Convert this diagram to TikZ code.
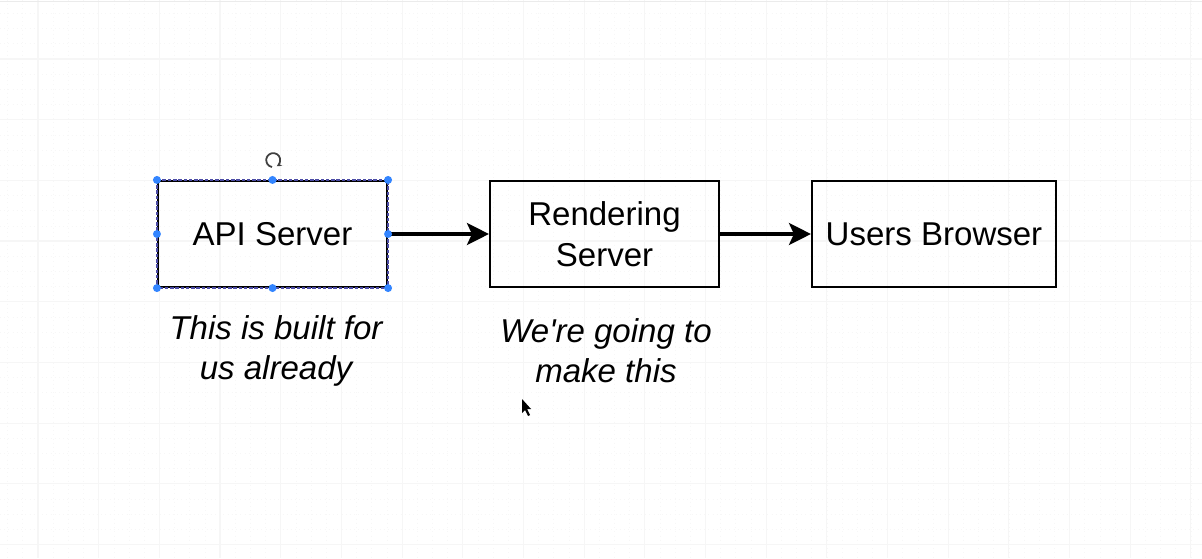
\documentclass[tikz,border=0pt]{standalone}
\usepackage{fontspec}
\setmainfont{Liberation Sans}
\usepackage{tikz}
\usetikzlibrary{arrows.meta,positioning}

\begin{document}
\begin{tikzpicture}[x=0.02cm, y=-0.02cm,
  box/.style={draw, line width=1.2pt, minimum width=229*0.02cm, minimum height=106*0.02cm, inner sep=0pt, align=center, font=\fontsize{18.8}{23}\selectfont},
  note/.style={align=center, font=\fontsize{18.8}{22.8}\selectfont\itshape},
  link/.style={line width=1.9pt, -{Stealth[length=0.44cm, width=0.44cm, inset=0.1cm]}},
  handle/.style={circle, fill=blue!60!cyan!80, inner sep=0pt, minimum size=0.16cm}]

\useasboundingbox (0,0) rectangle (1202,558);
\fill[white] (0,0) rectangle (1202,558);

\begin{scope}
\foreach \a in {0,...,79}{
	\draw[black!3, dotted] ({38+(\a-2)*15.17},0)--({38+(\a-2)*15.17},558);
}
\foreach \a in {0,...,37}{
	\draw[black!3, dotted] (0,{59+(\a-3)*15.17})--(1202,{59+(\a-3)*15.17});
}
\foreach \a in {0,...,19}{
	\draw[black!3.5, line width=0.6pt] ({38+\a*60.67},0)--({38+\a*60.67},558);
}
\foreach \a in {-1,...,8}{
	\draw[black!3.5, line width=0.6pt] (0,{59+\a*60.67})--(1202,{59+\a*60.67});
}
\draw[black!8] (0,1)--(1202,1);
\end{scope}

\node[box] (api) at (272.5,234) {API Server};
\node[box] (render) at (604.5,234) {Rendering\\Server};
\node[box, minimum width=244*0.02cm] (browser) at (934,234) {Users Browser};

\draw[link] (api) -- (render);
\draw[link] (render) -- (browser);

\node[note] (built) at (276,351) {This is built for\\us already};
\node[note] (make) at (606,351) {We\textquotesingle re going to\\make this};

% selection of api
\draw[blue!50!black!70, line width=1.2pt, dash pattern=on 2pt off 1pt] (api.north west) rectangle (api.south east);
\foreach \p in {north west,north,north east,west,east,south west,south,south east}{
	\node[handle] at (api.\p) {};
}
\draw[black!75, line width=1pt, -{Stealth[length=0.1cm, width=0.1cm]}] (272,167) arc[start angle=100, end angle=420, radius=7];

% pointer
\fill[black] (522,399)--(522,413)--(525,410)--(528,416)--(530,415)--(527,409)--(531,409)--cycle;

\end{tikzpicture}
\end{document}
